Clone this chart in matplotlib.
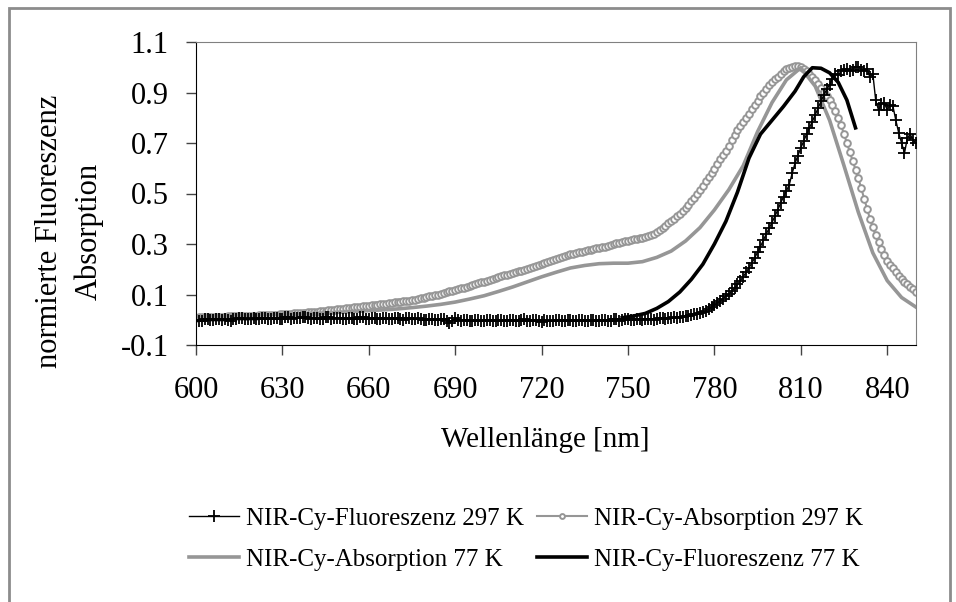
import numpy as np
import matplotlib
matplotlib.use("Agg")
import matplotlib.pyplot as plt
from matplotlib.patches import Rectangle

plt.rcParams['font.family'] = ['Liberation Serif', 'DejaVu Serif']

# Wellenlaengen-Raster der 297 K Messungen (1 nm Schritte)
wl_297 = np.arange(600, 851, 1)

fluor_297 = [
    0.000, -0.003, -0.004, 0.002, 0.003, -0.001, -0.002, 0.004, 0.001, -0.002,
    0.004, 0.000, -0.003, 0.003, 0.002, 0.006, 0.005, 0.001, 0.001, 0.004,
    0.006, 0.003, 0.002, 0.007, 0.007, 0.002, 0.003, 0.008, 0.008, 0.003,
    0.004, 0.009, 0.009, 0.004, 0.005, 0.007, 0.006, 0.010, 0.010, 0.005,
    0.004, 0.008, 0.008, 0.004, 0.003, 0.009, 0.009, 0.004, 0.005, 0.008,
    0.007, 0.003, 0.002, 0.007, 0.008, 0.004, 0.004, 0.009, 0.009, 0.004,
    0.003, 0.007, 0.006, 0.002, 0.002, 0.006, 0.007, 0.003, 0.003, 0.006,
    0.005, 0.001, 0.000, 0.005, 0.006, 0.002, 0.001, 0.005, 0.004, 0.000,
    -0.001, 0.004, 0.003, -0.001, -0.002, 0.003, 0.002, -0.003, -0.012, -0.004,
    0.006, 0.000, -0.004, -0.002, -0.001, -0.005, -0.006, -0.001, -0.002, -0.006,
    -0.005, -0.001, 0.000, -0.004, -0.004, 0.000, -0.001, -0.005, -0.006, -0.001,
    -0.002, -0.006, -0.005, 0.000, 0.001, -0.004, -0.004, -0.001, -0.002, -0.006,
    -0.007, -0.002, -0.003, -0.006, -0.006, -0.001, 0.000, -0.005, -0.005, -0.001,
    -0.002, -0.006, -0.006, -0.001, -0.001, -0.005, -0.004, 0.000, -0.002, -0.005,
    -0.005, -0.001, 0.000, -0.004, -0.003, 0.001, 0.001, -0.003, -0.002, 0.002,
    0.002, -0.002, 0.000, 0.003, 0.003, -0.001, 0.001, 0.004, 0.004, 0.000,
    0.002, 0.005, 0.005, 0.002, 0.006, 0.008, 0.009, 0.007, 0.010, 0.012,
    0.014, 0.016, 0.018, 0.021, 0.024, 0.027, 0.030, 0.036, 0.042, 0.050,
    0.058, 0.066, 0.075, 0.084, 0.093, 0.102, 0.112, 0.125, 0.140, 0.155,
    0.170, 0.188, 0.205, 0.225, 0.245, 0.268, 0.290, 0.315, 0.340, 0.362,
    0.385, 0.410, 0.435, 0.462, 0.487, 0.510, 0.535, 0.580, 0.620, 0.650,
    0.680, 0.708, 0.735, 0.760, 0.785, 0.812, 0.840, 0.865, 0.890, 0.912,
    0.930, 0.955, 0.975, 0.968, 0.985, 0.990, 0.995, 0.985, 0.990, 1.000,
    1.000, 0.990, 0.985, 0.995, 0.960, 0.975, 0.870, 0.830, 0.856, 0.860,
    0.830, 0.850, 0.845, 0.790, 0.740, 0.700, 0.660, 0.720, 0.735, 0.710,
    0.700,
]

absorb_297 = [
    0.008, 0.009, 0.010, 0.010, 0.009, 0.010, 0.011, 0.011, 0.012, 0.012,
    0.012, 0.013, 0.013, 0.013, 0.014, 0.014, 0.015, 0.015, 0.015, 0.016,
    0.016, 0.016, 0.017, 0.018, 0.018, 0.019, 0.019, 0.020, 0.020, 0.021,
    0.022, 0.022, 0.023, 0.024, 0.025, 0.025, 0.026, 0.027, 0.028, 0.029,
    0.030, 0.031, 0.032, 0.033, 0.034, 0.036, 0.037, 0.038, 0.039, 0.041,
    0.042, 0.044, 0.045, 0.046, 0.047, 0.049, 0.050, 0.052, 0.053, 0.055,
    0.056, 0.057, 0.058, 0.060, 0.061, 0.063, 0.064, 0.066, 0.067, 0.069,
    0.070, 0.072, 0.073, 0.075, 0.076, 0.078, 0.080, 0.083, 0.085, 0.088,
    0.090, 0.093, 0.095, 0.098, 0.100, 0.103, 0.106, 0.109, 0.112, 0.115,
    0.118, 0.121, 0.124, 0.127, 0.130, 0.134, 0.137, 0.141, 0.144, 0.148,
    0.151, 0.155, 0.158, 0.162, 0.165, 0.169, 0.172, 0.176, 0.179, 0.183,
    0.186, 0.189, 0.192, 0.195, 0.198, 0.201, 0.204, 0.208, 0.212, 0.216,
    0.220, 0.224, 0.228, 0.232, 0.236, 0.240, 0.244, 0.248, 0.252, 0.256,
    0.259, 0.262, 0.265, 0.268, 0.270, 0.273, 0.275, 0.278, 0.280, 0.283,
    0.285, 0.288, 0.290, 0.293, 0.296, 0.299, 0.302, 0.305, 0.308, 0.310,
    0.312, 0.315, 0.318, 0.320, 0.322, 0.325, 0.328, 0.332, 0.336, 0.341,
    0.346, 0.354, 0.362, 0.372, 0.383, 0.391, 0.400, 0.410, 0.420, 0.431,
    0.442, 0.456, 0.470, 0.484, 0.498, 0.514, 0.530, 0.548, 0.565, 0.582,
    0.598, 0.617, 0.635, 0.652, 0.668, 0.689, 0.710, 0.731, 0.752, 0.769,
    0.785, 0.800, 0.815, 0.833, 0.850, 0.868, 0.885, 0.900, 0.915, 0.929,
    0.942, 0.952, 0.962, 0.974, 0.985, 0.992, 0.998, 1.002, 1.005, 1.003,
    1.000, 0.993, 0.985, 0.973, 0.960, 0.948, 0.935, 0.919, 0.903, 0.887,
    0.870, 0.850, 0.828, 0.800, 0.770, 0.735, 0.700, 0.665, 0.630, 0.595,
    0.560, 0.520, 0.480, 0.440, 0.400, 0.368, 0.335, 0.308, 0.280, 0.256,
    0.232, 0.218, 0.205, 0.190, 0.175, 0.162, 0.150, 0.140, 0.130, 0.120,
    0.110,
]

# 77 K Absorption (5 nm Schritte)
wl_abs_77 = np.arange(600, 851, 5)
absorb_77 = [
    0.010, 0.012, 0.014, 0.016, 0.018, 0.020, 0.022, 0.023, 0.025, 0.027,
    0.030, 0.033, 0.036, 0.039, 0.043, 0.048, 0.054, 0.061, 0.070, 0.082,
    0.095, 0.112, 0.130, 0.150, 0.170, 0.188, 0.205, 0.215, 0.222, 0.224,
    0.224, 0.230, 0.247, 0.272, 0.312, 0.365, 0.435, 0.515, 0.610, 0.745,
    0.860, 0.950, 0.998, 0.925, 0.790, 0.610, 0.425, 0.265, 0.155, 0.088,
    0.050,
]

# 77 K Fluoreszenz
wl_fl_77 = [748, 752, 756, 760, 764, 768, 772, 776, 780, 784, 788, 792,
            796, 800, 804, 808, 811, 814, 817, 820, 823, 826, 829]
fluor_77 = [0.008, 0.015, 0.025, 0.045, 0.072, 0.110, 0.160, 0.220, 0.300,
            0.390, 0.505, 0.640, 0.735, 0.790, 0.845, 0.905, 0.962, 0.998,
            0.996, 0.978, 0.940, 0.870, 0.760]

labels = ["NIR-Cy-Fluoreszenz 297 K", "NIR-Cy-Absorption 297 K",
          "NIR-Cy-Absorption 77 K", "NIR-Cy-Fluoreszenz 77 K"]
x_ticks = [600, 630, 660, 690, 720, 750, 780, 810, 840]
y_ticks = [-0.1, 0.1, 0.3, 0.5, 0.7, 0.9, 1.1]

gray = '#969696'

fig = plt.figure(figsize=(9.56, 6.02), dpi=100)
ax = fig.add_axes([196 / 956, 1 - 345 / 602, 720 / 956, 303 / 602])

l1, = ax.plot(wl_297, fluor_297, color='black', lw=1.0, marker='+',
              markersize=9, markeredgewidth=1.3, label=labels[0], zorder=5)
l2, = ax.plot(wl_297, absorb_297, color=gray, lw=1.5, marker='o',
              markersize=4.8, markerfacecolor='white', markeredgecolor=gray,
              markeredgewidth=1.4, label=labels[1])
l3, = ax.plot(wl_abs_77, absorb_77, color=gray, lw=2.6, label=labels[2])
l4, = ax.plot(wl_fl_77, fluor_77, color='black', lw=2.6, label=labels[3])

ax.set_xlim(600, 850)
ax.set_ylim(-0.1, 1.1)
ax.set_xticks(x_ticks)
ax.set_yticks(y_ticks)
ax.set_yticklabels(['-0.1', '0.1', '0.3', '0.5', '0.7', '0.9', '1.1'])
ax.tick_params(axis='both', direction='out', length=7.5, width=1.0,
               labelsize=22, color='#444444')
ax.tick_params(axis='x', pad=15)
ax.tick_params(axis='y', pad=12)
for side in ['left', 'bottom']:
    ax.spines[side].set_color('black')
for side in ['top', 'right']:
    ax.spines[side].set_color('#808080')

fig.text(69 / 956, 1 - 231 / 602, "normierte Fluoreszenz\nAbsorption",
         rotation=90, ha='center', va='center', fontsize=22,
         multialignment='center', linespacing=1.45)
fig.text(545 / 956, 1 - 440 / 602, "Wellenlänge [nm]", ha='center',
         va='center', fontsize=21)

# Legende zeilenweise wie im Original (ncol fuellt spaltenweise)
leg = fig.legend(handles=[l1, l3, l2, l4], ncol=2, frameon=False, fontsize=18,
                 loc='upper left', bbox_to_anchor=(189 / 956, 1 - 507 / 602),
                 borderaxespad=0, borderpad=0, handlelength=2.0,
                 handletextpad=0.3, columnspacing=0.5, labelspacing=0.75)
for h in leg.legend_handles:
    if h.get_marker() == 'o':
        h.set_markersize(3.5)

fig.patches.append(Rectangle((9 / 956, -0.05), 941 / 956, 1 - 8 / 602 + 0.05,
                             transform=fig.transFigure, fill=False,
                             edgecolor='#8c8c8c', lw=2.0))

fig.savefig('out.png', dpi=100)
